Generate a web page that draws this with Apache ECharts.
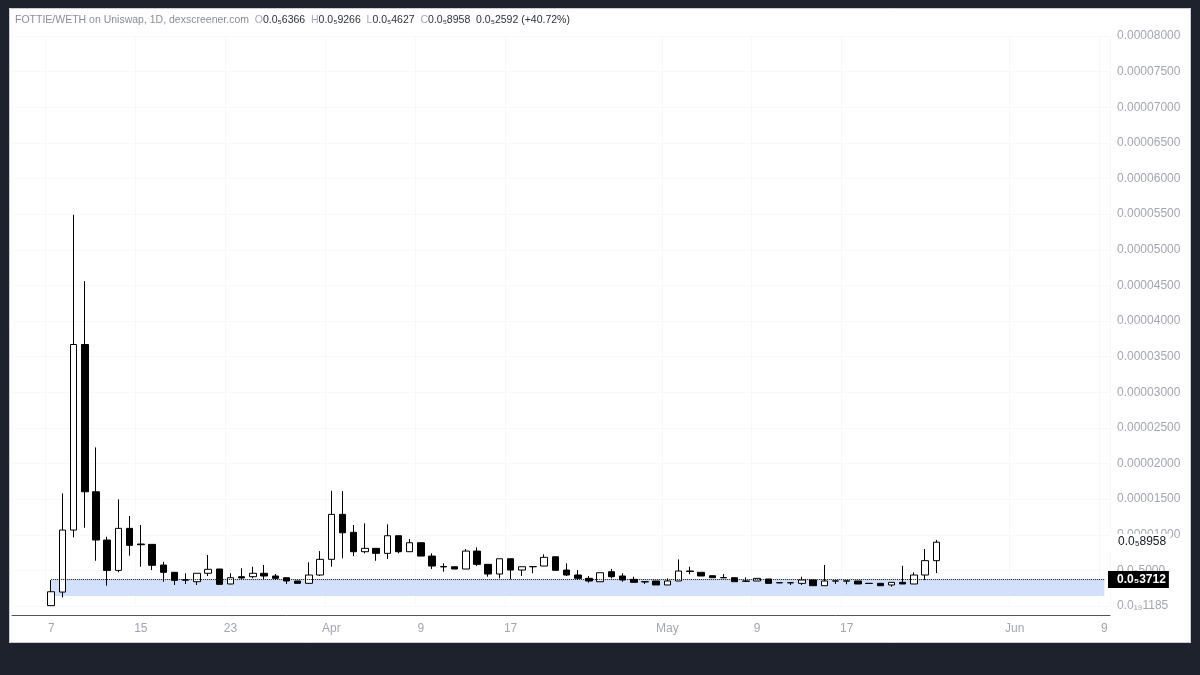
<!DOCTYPE html>
<html><head><meta charset="utf-8">
<script src="https://cdn.jsdelivr.net/npm/echarts@6/dist/echarts.min.js"></script>
<style>html,body{margin:0;padding:0;background:#fff}#c{width:1200px;height:675px}</style>
</head><body><div id="c"></div>
<script>
// ---- data ----
const axisStart = '2024-03-04';
const axisEnd = '2024-06-09';
const firstCandle = '2024-03-07';
const opens = [0.05e-6,1.96e-6,10.66e-6,36.7e-6,16.03e-6,9.26e-6,5.0e-6,10.9e-6,8.7e-6,8.65e-6,5.75e-6,4.73e-6,3.67e-6,
  3.41e-6,4.59e-6,5.19e-6,3.09e-6,4.11e-6,4.11e-6,4.59e-6,4.21e-6,3.97e-6,3.51e-6,3.18e-6,4.35e-6,
  6.55e-6,12.86e-6,10.34e-6,7.62e-6,8.09e-6,7.39e-6,9.86e-6,7.62e-6,8.88e-6,7.01e-6,5.53e-6,5.51e-6,5.19e-6,7.71e-6,5.85e-6,
  4.49e-6,6.63e-6,5.05e-6,5.51e-6,5.61e-6,6.91e-6,5.05e-6,4.35e-6,3.88e-6,3.41e-6,4.81e-6,4.21e-6,3.74e-6,3.41e-6,3.51e-6,
  2.95e-6,3.51e-6,4.91e-6,4.73e-6,4.25e-6,3.98e-6,3.97e-6,3.51e-6,3.51e-6,3.79e-6,3.27e-6,3.25e-6,3.18e-6,3.65e-6,2.85e-6,
  3.52e-6,3.52e-6,3.51e-6,3.18e-6,3.18e-6,2.95e-6,3.32e-6,3.09e-6,4.35e-6,6.366e-6];
const highs = [3.65e-6,15.8e-6,54.9e-6,45.6e-6,22.26e-6,9.72e-6,14.96e-6,12.62e-6,11.36e-6,8.65e-6,6.21e-6,4.75e-6,4.58e-6,
  4.6e-6,7.15e-6,5.2e-6,4.59e-6,5.29e-6,5.51e-6,5.75e-6,4.49e-6,3.97e-6,3.51e-6,6.13e-6,7.71e-6,
  16.17e-6,16.13e-6,11.36e-6,11.6e-6,8.1e-6,11.46e-6,9.9e-6,9.4e-6,8.9e-6,7.39e-6,5.99e-6,5.51e-6,7.99e-6,8.23e-6,5.85e-6,
  6.63e-6,6.63e-6,5.51e-6,5.53e-6,7.25e-6,6.91e-6,5.99e-6,5.05e-6,4.21e-6,4.67e-6,5.19e-6,4.59e-6,4.11e-6,3.41e-6,3.51e-6,
  3.88e-6,6.55e-6,5.51e-6,4.73e-6,4.25e-6,4.49e-6,3.97e-6,4.02e-6,3.88e-6,3.79e-6,3.29e-6,3.27e-6,4.11e-6,3.65e-6,5.75e-6,
  3.52e-6,3.52e-6,3.51e-6,3.19e-6,3.18e-6,3.32e-6,5.65e-6,4.73e-6,7.99e-6,9.266e-6];
const lows = [0.02e-6,1.22e-6,9.63e-6,10.98e-6,6.35e-6,2.85e-6,4.73e-6,7.06e-6,5.51e-6,5.05e-6,3.41e-6,2.95e-6,3.09e-6,
  2.95e-6,4.21e-6,3.0e-6,3.05e-6,3.74e-6,3.88e-6,3.74e-6,3.65e-6,3.09e-6,3.15e-6,3.15e-6,4.21e-6,
  5.51e-6,6.69e-6,7.01e-6,7.39e-6,6.35e-6,6.59e-6,7.39e-6,7.6e-6,7.0e-6,5.19e-6,4.81e-6,5.19e-6,5.19e-6,5.61e-6,4.11e-6,
  3.88e-6,3.74e-6,4.21e-6,4.59e-6,5.6e-6,5.01e-6,4.21e-6,3.65e-6,3.27e-6,3.41e-6,3.88e-6,3.41e-6,3.32e-6,3.09e-6,2.95e-6,
  2.95e-6,3.5e-6,4.45e-6,4.21e-6,3.97e-6,3.96e-6,3.41e-6,3.4e-6,3.51e-6,3.18e-6,3.23e-6,2.95e-6,2.95e-6,2.85e-6,2.85e-6,
  3.09e-6,3.05e-6,3.09e-6,3.14e-6,2.85e-6,2.71e-6,3.09e-6,3.09e-6,3.65e-6,4.627e-6];
const closes = [2.0e-6,10.66e-6,36.7e-6,16.03e-6,9.26e-6,5.0e-6,10.9e-6,8.51e-6,8.6e-6,5.71e-6,4.73e-6,3.6e-6,3.63e-6,
  4.59e-6,5.15e-6,3.04e-6,3.97e-6,3.93e-6,4.59e-6,4.21e-6,3.88e-6,3.51e-6,3.18e-6,4.35e-6,6.55e-6,
  12.86e-6,10.28e-6,7.62e-6,8.09e-6,7.39e-6,9.86e-6,7.62e-6,8.88e-6,7.01e-6,5.61e-6,5.49e-6,5.19e-6,7.71e-6,5.85e-6,4.49e-6,
  6.63e-6,5.05e-6,5.51e-6,5.53e-6,6.83e-6,5.01e-6,4.35e-6,3.88e-6,3.51e-6,4.67e-6,4.11e-6,3.65e-6,3.32e-6,3.38e-6,2.95e-6,
  3.51e-6,4.91e-6,4.85e-6,4.21e-6,3.97e-6,3.96e-6,3.41e-6,3.47e-6,3.88e-6,3.18e-6,3.25e-6,3.27e-6,3.65e-6,2.85e-6,3.51e-6,
  3.5e-6,3.5e-6,3.09e-6,3.16e-6,2.85e-6,3.32e-6,3.09e-6,4.35e-6,6.366e-6,8.958e-6];
const xTickDays = ['2024-03-07','2024-03-15','2024-03-23','2024-04-01','2024-04-09','2024-04-17','2024-05-01','2024-05-09','2024-05-17','2024-06-01','2024-06-09'];
const xTickLabels = ['7','15','23','Apr','9','17','May','9','17','Jun','9'];
const yStep = 5e-6;
const yTickLabels = ['0.0₁₉1185','0.0₅5000','0.00001000','0.00001500','0.00002000','0.00002500','0.00003000','0.00003500',
  '0.00004000','0.00004500','0.00005000','0.00005500','0.00006000','0.00006500','0.00007000','0.00007500','0.00008000'];
const lastPrice = 8.958e-6, lastPriceLabel = '0.0₅8958';
const levelPrice = 3.712e-6, levelLabel = '0.0₅3712';
const zoneLow = 1.4e-6;
const titleText = 'FOTTIE/WETH on Uniswap, 1D, dexscreener.com';
const legendKeys = ['O','H','L','C'];
const legendValues = ['0.0₅6366','0.0₅9266','0.0₅4627','0.0₅8958'];
const changeText = '0.0₅2592 (+40.72%)';

// ---- build ----
function fmt(d){return d.toISOString().slice(0,10);}
const categories = [];
for (let d = new Date(axisStart+'T00:00:00Z'); fmt(d) <= axisEnd; d.setUTCDate(d.getUTCDate()+1)) categories.push(fmt(d));
const startIdx = categories.indexOf(firstCandle);
const candleData = opens.map((o,i)=>[categories[startIdx+i], o, closes[i], lows[i], highs[i]]);

const FONT = '"Liberation Sans", Arial, sans-serif';
let titleRich = '{t|' + titleText + '}';
legendKeys.forEach((k,i)=>{ titleRich += '  {k|' + k + '}{v|' + legendValues[i] + '}'; });
titleRich += '  {v|' + changeText + '}';

const chart = echarts.init(document.getElementById('c'), null, {renderer:'canvas'});
chart.setOption({
  animation: false,
  backgroundColor: '#ffffff',
  grid: {left: 12, right: 90, top: 36, bottom: 69},
  xAxis: {
    type: 'category', data: categories, boundaryGap: true, offset: 9,
    axisLine: {show: true, onZero: false, lineStyle: {color: '#50535e', width: 1}},
    axisTick: {show: false},
    axisLabel: {
      interval: (i, v) => xTickDays.indexOf(v) >= 0,
      formatter: v => xTickLabels[xTickDays.indexOf(v)],
      color: '#a3a6af', fontSize: 12, fontFamily: FONT, margin: 8
    },
    splitLine: {show: true, interval: (i, v) => xTickDays.indexOf(v) >= 0, lineStyle: {color: '#f7f8fa'}}
  },
  yAxis: {
    type: 'value', position: 'right', min: 0, max: 80e-6, interval: yStep, scale: false,
    axisLine: {show: false}, axisTick: {show: false},
    axisLabel: {formatter: v => yTickLabels[Math.round(v / yStep)], color: '#a3a6af', fontSize: 12, fontFamily: FONT, margin: 7, align: 'left'},
    splitLine: {show: true, lineStyle: {color: '#f7f8fa'}}
  },
  series: [{
    type: 'candlestick',
    data: candleData,
    encode: {x: 0, y: [1, 2, 3, 4]},
    barWidth: 7,
    z: 3,
    itemStyle: {color: '#ffffff', color0: '#000000', borderColor: '#000000', borderColor0: '#000000', borderWidth: 1},
    markArea: {
      silent: true,
      itemStyle: {color: '#d2e0fb'},
      data: [[{xAxis: firstCandle, yAxis: zoneLow}, {xAxis: axisEnd, yAxis: levelPrice}]]
    }
  }, {
    type: 'line',
    z: 4,
    data: [[firstCandle, levelPrice], [axisEnd, levelPrice]],
    symbol: 'none', silent: true,
    lineStyle: {type: 'dotted', color: '#000000', width: 1},
    markLine: {
      silent: true, symbol: ['none', 'none'], precision: 12,
      lineStyle: {color: 'rgba(0,0,0,0)', width: 0, type: 'solid'},
      data: [
        {yAxis: lastPrice,
          label: {show: true, position: 'end', formatter: lastPriceLabel, color: '#131722', backgroundColor: '#ffffff',
            fontSize: 12, fontFamily: FONT, padding: [3, 4, 2, 8], distance: 0}},
        {yAxis: levelPrice,
          label: {show: true, position: 'end', formatter: levelLabel, color: '#ffffff', backgroundColor: '#000000',
            fontWeight: 'bold', fontSize: 12, fontFamily: FONT, padding: [3, 3, 2, 9], distance: -2}}
      ]
    }
  }],
  graphic: [
    {type: 'rect', silent: true, z: 100, shape: {x: 0, y: 0, width: 1200, height: 8}, style: {fill: '#1e222d'}},
    {type: 'rect', silent: true, z: 100, shape: {x: 0, y: 643, width: 1200, height: 32}, style: {fill: '#1e222d'}},
    {type: 'rect', silent: true, z: 100, shape: {x: 0, y: 0, width: 9, height: 675}, style: {fill: '#1e222d'}},
    {type: 'rect', silent: true, z: 100, shape: {x: 1191, y: 0, width: 9, height: 675}, style: {fill: '#1e222d'}},
    {type: 'rect', silent: true, z: 100, shape: {x: 9.5, y: 8.5, width: 1181, height: 634}, style: {fill: 'none', stroke: '#c9ccd3', lineWidth: 1}},
    {type: 'text', silent: true, z: 100, left: 15, top: 15,
      style: {text: titleRich, font: '10.5px ' + FONT,
        rich: {t: {fill: '#8a8d96', fontSize: 10.5, fontFamily: FONT},
               k: {fill: '#a6a9b1', fontSize: 10.5, fontFamily: FONT},
               v: {fill: '#2e3139', fontSize: 10.5, fontFamily: FONT}}}},
    {type: 'group', silent: true, z: 100, children: [
      {type: 'rect', shape: {x: 10, y: 655, width: 7, height: 3}, style: {fill: '#ffffff'}},
      {type: 'rect', shape: {x: 13.5, y: 655, width: 3.5, height: 10}, style: {fill: '#ffffff'}},
      {type: 'circle', shape: {cx: 19.6, cy: 656.6, r: 1.6}, style: {fill: '#ffffff'}},
      {type: 'polygon', shape: {points: [[22.5, 655], [26, 655], [22, 665], [18.5, 665]]}, style: {fill: '#ffffff'}},
      {type: 'text', x: 29, y: 653, style: {text: 'TradingView', fill: '#ffffff', font: '12px ' + FONT}}
    ]}
  ]
});
</script></body></html>
